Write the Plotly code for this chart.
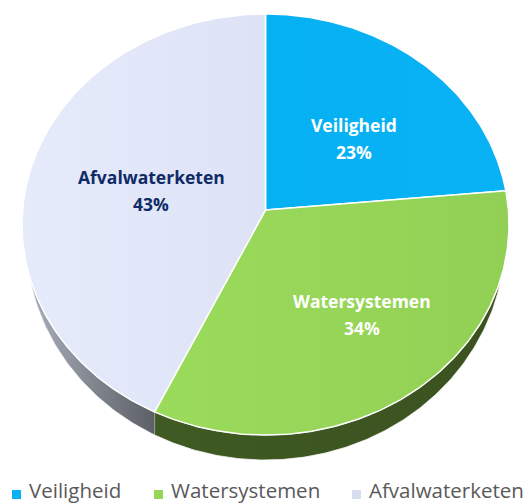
import numpy as np
import plotly.graph_objects as go

categories = ["Veiligheid", "Watersystemen", "Afvalwaterketen"]
values = [23, 34, 43]

W, H = 525, 503
CX, CY, RX, RY = 265.5, 224.5, 243.5, 210.5
APEX_V = 0.069        # perspective shift of the pie centre
WARP_A, WARP_B = 0.041, -0.0203   # perspective warp of the rim angle (radians)
DEPTH = 25 / RY       # wall height in axis units
TIP = 0.27            # wall tapers to nothing at this height of the rim

top_grad = [
    dict(type="horizontal", colorscale=[[0, "#06B1F3"], [1, "#08B2F4"]]),
    dict(type="horizontal", colorscale=[[0, "#9BDB5B"], [1, "#92D055"]]),
    dict(type="horizontal", colorscale=[[0, "#E6EBFC"], [1, "#DDE2F5"]]),
]
wall_grad = [
    dict(type="horizontal", colorscale=[[0, "#035A7C"], [1, "#035A7C"]]),
    dict(type="horizontal", colorscale=[[0, "#3F5A22"], [1, "#3B5220"]]),
    dict(type="horizontal", colorscale=[[0, "#A8ADB8"], [1, "#5C5F66"]]),
]
label_col = ["#FFFFFF", "#FFFFFF", "#0F2A66"]
swatch_col = ["#06B1F3", "#97D557", "#D6DEF0"]
legend_x = [12, 154, 352]
label_xy = [(354, 125), (362, 301), (151, 177)]

fracs = np.cumsum([0] + values) / sum(values)
fig = go.Figure()


def rim(a0, a1):
    t = np.linspace(a0, a1, 181) * 2 * np.pi
    t = t - WARP_A * np.sin(t) - WARP_B * np.sin(2 * t)
    return np.sin(t), np.cos(t)


# side wall
for i in range(len(values)):
    u, v = rim(fracs[i], fracs[i + 1])
    d = DEPTH * np.sqrt(np.clip((-v - TIP) / (1 - TIP), 0, 1))
    vis = d > 0
    if vis.sum() < 2:
        continue
    u, v, d = u[vis], v[vis], d[vis]
    fig.add_trace(go.Scatter(
        x=np.r_[u, u[::-1]], y=np.r_[v, (v - d)[::-1]],
        mode="lines", fill="toself", fillgradient=wall_grad[i],
        line=dict(color="#F4F4F4", width=0.8), hoverinfo="skip", showlegend=False))

# top face
for i, name in enumerate(categories):
    u, v = rim(fracs[i], fracs[i + 1])
    fig.add_trace(go.Scatter(
        x=np.r_[0, u, 0], y=np.r_[APEX_V, v, APEX_V], name=name,
        mode="lines", fill="toself", fillgradient=top_grad[i],
        line=dict(color="#FFFFFF", width=1.5), hoverinfo="name", showlegend=False))

annotations, shapes = [], []
for i, name in enumerate(categories):
    lx, ly = label_xy[i]
    for text, dy in ((name, 0), (f"{values[i]}%", 27)):
        annotations.append(dict(
            xref="paper", yref="paper", x=lx / W, y=1 - (ly + dy) / H, showarrow=False,
            xanchor="center", yanchor="middle", text=f"<b>{text}</b>",
            font=dict(family="Open Sans", size=17.5, color=label_col[i])))
    annotations.append(dict(
        xref="paper", yref="paper", x=(legend_x[i] + 15) / W, y=1 - 490 / H,
        showarrow=False, xanchor="left", yanchor="middle", text=name,
        font=dict(family="Open Sans", size=20.5, color="#595959")))
    shapes.append(dict(
        type="rect", xref="paper", yref="paper", line_width=0,
        x0=legend_x[i] / W, x1=(legend_x[i] + 9) / W,
        y0=1 - 499 / H, y1=1 - 490 / H, fillcolor=swatch_col[i]))

fig.update_layout(
    width=W, height=H, margin=dict(l=0, r=0, t=0, b=0),
    paper_bgcolor="white", plot_bgcolor="white", showlegend=False,
    xaxis=dict(visible=False, range=[-CX / RX, (W - CX) / RX], fixedrange=True),
    yaxis=dict(visible=False, range=[(CY - H) / RY, CY / RY], fixedrange=True),
    annotations=annotations, shapes=shapes,
)
fig.write_html("out.html", config=dict(displayModeBar=False),
               post_script="document.body.style.margin='0';document.documentElement.style.overflow='hidden';")
